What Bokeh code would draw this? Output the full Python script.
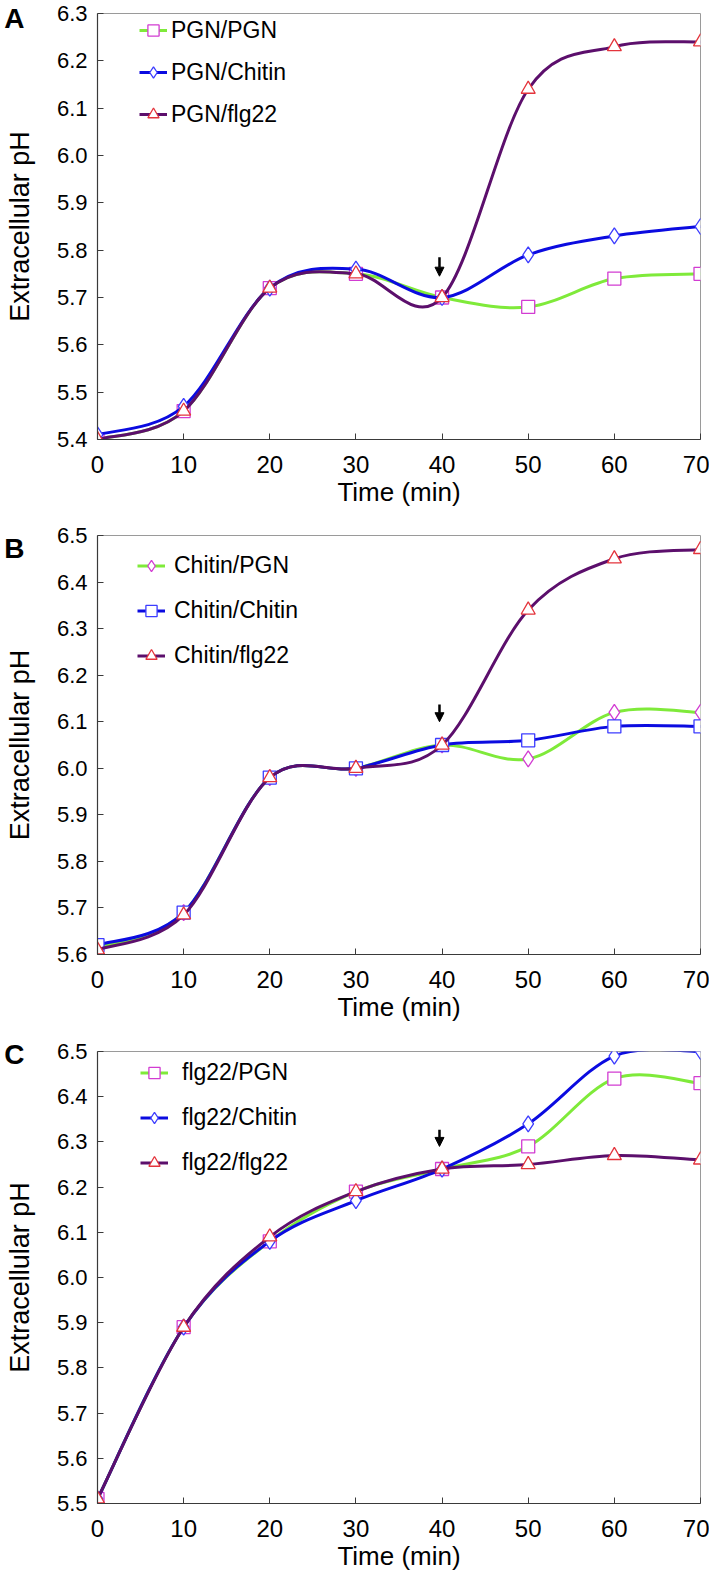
from bokeh.plotting import figure
from bokeh.models import (ColumnDataSource, Legend, LegendItem, Arrow, NormalHead,
                          Range1d, FixedTicker, PrintfTickFormatter, LinearAxis,
                          CustomJSTickFormatter)
from bokeh.layouts import column
from bokeh.embed import file_html
from bokeh.resources import INLINE

# ---------------- data ----------------
time_min = [0, 10, 20, 30, 40, 50, 60, 70]

a_labels = ["PGN/PGN", "PGN/Chitin", "PGN/flg22"]
a_pgn = [5.40, 5.46, 5.72, 5.75, 5.70, 5.68, 5.74, 5.75]
a_chitin = [5.41, 5.47, 5.72, 5.76, 5.70, 5.79, 5.83, 5.85]
a_flg22 = [5.40, 5.46, 5.72, 5.75, 5.70, 6.14, 6.23, 6.24]

b_labels = ["Chitin/PGN", "Chitin/Chitin", "Chitin/flg22"]
b_pgn = [5.615, 5.69, 5.98, 6.00, 6.05, 6.02, 6.12, 6.12]
b_chitin = [5.62, 5.69, 5.98, 6.00, 6.05, 6.06, 6.09, 6.09]
b_flg22 = [5.61, 5.685, 5.98, 6.00, 6.05, 6.34, 6.45, 6.47]

c_labels = ["flg22/PGN", "flg22/Chitin", "flg22/flg22"]
c_pgn = [5.51, 5.89, 6.08, 6.19, 6.24, 6.29, 6.44, 6.43]
c_chitin = [5.51, 5.89, 6.08, 6.17, 6.24, 6.34, 6.49, 6.50]
c_flg22 = [5.51, 5.89, 6.09, 6.19, 6.24, 6.25, 6.27, 6.26]

x_ticks = [0, 10, 20, 30, 40, 50, 60, 70]
a_yticks = [5.4, 5.5, 5.6, 5.7, 5.8, 5.9, 6.0, 6.1, 6.2, 6.3]
b_yticks = [5.6, 5.7, 5.8, 5.9, 6.0, 6.1, 6.2, 6.3, 6.4, 6.5]
c_yticks = [5.5, 5.6, 5.7, 5.8, 5.9, 6.0, 6.1, 6.2, 6.3, 6.4, 6.5]

second_treatment = 39.7          # arrow marks second elicitor addition
a_arrow = (5.785, 5.745)
b_arrow = (6.137, 6.100)
c_arrow = (6.327, 6.290)

# ---------------- styles ----------------
FONT = "Liberation Sans"
GREEN = "#7FEA3A"
BLUE = "#0B0BE0"
PURPLE = "#5C0F6C"
MAGENTA = "#D23CD2"
MBLUE = "#3C3CFF"
RED = "#E4343C"

SQUARE = dict(marker="square", size=13)
DIAMOND = dict(marker="diamond", size=16)
TRIANGLE = dict(marker="triangle", size=14)


def smooth_segments(xs, ys):
    """Bezier segments (Excel-like smoothed line) through the data points."""
    n = len(xs)
    d = dict(x0=[], y0=[], x1=[], y1=[], cx0=[], cy0=[], cx1=[], cy1=[])
    for i in range(n - 1):
        xp, yp = (xs[i - 1], ys[i - 1]) if i > 0 else (xs[i], ys[i])
        xn, yn = (xs[i + 2], ys[i + 2]) if i + 2 < n else (xs[i + 1], ys[i + 1])
        d["x0"].append(xs[i]); d["y0"].append(ys[i])
        d["x1"].append(xs[i + 1]); d["y1"].append(ys[i + 1])
        d["cx0"].append(xs[i] + (xs[i + 1] - xp) / 6.0)
        d["cy0"].append(ys[i] + (ys[i + 1] - yp) / 6.0)
        d["cx1"].append(xs[i + 1] - (xn - xs[i]) / 6.0)
        d["cy1"].append(ys[i + 1] - (yn - ys[i]) / 6.0)
    return ColumnDataSource(d)


def make_panel(letter, letter_y, labels, series, styles, yr, yticks, arrow_y,
               height, b_top, b_bottom, legend_xy, legend_row, legend_standoff):
    p = figure(width=709, height=height, output_backend="svg", toolbar_location=None,
               x_range=Range1d(0, 70), y_range=Range1d(*yr),
               min_border_left=97, min_border_right=9,
               min_border_top=b_top, min_border_bottom=b_bottom)
    p.background_fill_color = "white"
    p.border_fill_color = "white"
    p.outline_line_color = "#9A9A9A"
    p.outline_line_width = 1
    p.xgrid.visible = False
    p.ygrid.visible = False

    p.xaxis.ticker = FixedTicker(ticks=x_ticks)
    p.yaxis.ticker = FixedTicker(ticks=yticks)
    p.yaxis.formatter = PrintfTickFormatter(format="%.1f")
    for ax in (p.xaxis[0], p.yaxis[0]):
        ax.axis_line_color = "#3A3A3A"
        ax.axis_line_width = 1.2
        ax.major_tick_line_color = "#3A3A3A"
        ax.major_tick_in = 6
        ax.major_tick_out = 0
        ax.minor_tick_in = 0
        ax.minor_tick_out = 0
        ax.major_label_text_font = FONT
        ax.major_label_text_color = "black"
        ax.axis_label_text_font = FONT
        ax.axis_label_text_font_style = "normal"
        ax.axis_label_text_color = "black"
    p.xaxis.major_label_text_font_size = "24px"
    p.yaxis.major_label_text_font_size = "22px"
    p.xaxis.major_label_standoff = 16
    p.yaxis.major_label_standoff = 10
    p.xaxis.axis_label = "Time (min)"
    p.xaxis.axis_label_text_font_size = "26px"
    p.xaxis.axis_label_standoff = 1
    p.yaxis.axis_label = "Extracellular pH"
    p.yaxis.axis_label_text_font_size = "27px"
    p.yaxis.axis_label_standoff = 19

    # panel letter, drawn as the single tick label of an outer, line-less left axis
    letter_axis = LinearAxis(ticker=FixedTicker(ticks=[letter_y]),
                             formatter=CustomJSTickFormatter(code="return '%s'" % letter),
                             axis_line_color=None, major_tick_line_color=None,
                             minor_tick_line_color=None, major_tick_in=0, major_tick_out=0,
                             major_label_standoff=-23, major_label_text_font=FONT,
                             major_label_text_font_style="bold",
                             major_label_text_font_size="28px",
                             major_label_text_color="black")
    p.add_layout(letter_axis, "left")

    items = []
    for lab, ys, (lcol, mcol, mk) in zip(labels, series, styles):
        src = smooth_segments(time_min, ys)
        rb = p.bezier(x0="x0", y0="y0", x1="x1", y1="y1", cx0="cx0", cy0="cy0",
                      cx1="cx1", cy1="cy1", source=src, line_color=lcol, line_width=3)
        rs = p.scatter(time_min, ys, marker=mk["marker"], size=mk["size"],
                       line_color=mcol, fill_color="white", line_width=1.3)
        items.append(LegendItem(label=lab, renderers=[rb, rs]))

    legend = Legend(items=items, location=legend_xy, orientation="vertical",
                    glyph_width=28, glyph_height=legend_row, label_height=legend_row,
                    spacing=0, padding=0, margin=0, label_standoff=legend_standoff,
                    label_text_font=FONT, label_text_font_size="23px",
                    label_text_color="black", border_line_color=None,
                    background_fill_alpha=0)
    p.add_layout(legend)

    p.add_layout(Arrow(x_start=second_treatment, y_start=arrow_y[0],
                       x_end=second_treatment, y_end=arrow_y[1],
                       line_color="black", line_width=2.5,
                       end=NormalHead(size=9, fill_color="black", line_color="black")))
    return p


pa = make_panel("A", 6.30, a_labels, [a_pgn, a_chitin, a_flg22],
                [(GREEN, MAGENTA, SQUARE), (BLUE, MBLUE, DIAMOND), (PURPLE, RED, TRIANGLE)],
                (5.4, 6.3), a_yticks, a_arrow, 514, 13, 75, (42, 304), 42, 4)
pb = make_panel("B", 6.472, b_labels, [b_pgn, b_chitin, b_flg22],
                [(GREEN, MAGENTA, DIAMOND), (BLUE, MBLUE, SQUARE), (PURPLE, RED, TRIANGLE)],
                (5.6, 6.5), b_yticks, b_arrow, 518, 21, 78, (40, 276), 45, 9)
pc = make_panel("C", 6.493, c_labels, [c_pgn, c_chitin, c_flg22],
                [(GREEN, MAGENTA, SQUARE), (BLUE, MBLUE, DIAMOND), (PURPLE, RED, TRIANGLE)],
                (5.5, 6.5), c_yticks, c_arrow, 545, 19, 74, (43, 318), 45, 14)

layout = column(pa, pb, pc, spacing=0)
open("out.html", "w").write(file_html(layout, INLINE))
